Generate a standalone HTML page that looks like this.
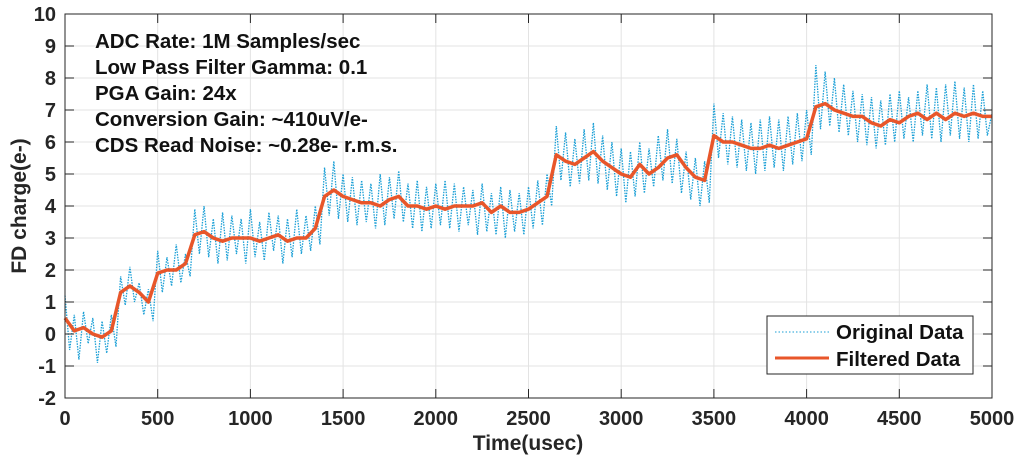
<!DOCTYPE html>
<html><head><meta charset="utf-8"><style>
html,body{margin:0;padding:0;background:#fff;}
svg{display:block;font-family:"Liberation Sans",Arial,sans-serif;font-weight:bold;}
</style></head><body>
<svg id="chart" width="1024" height="466" viewBox="0 0 1024 466" xmlns="http://www.w3.org/2000/svg">
<g id="grid"></g>
<g id="series"></g>
<rect x="65" y="14" width="927" height="384" fill="none" stroke="#262626" stroke-width="1"/>
<g id="ticks"></g>
<g font-size="20.5" fill="#111">
<text x="95" y="48">ADC Rate: 1M Samples/sec</text>
<text x="95" y="74">Low Pass Filter Gamma: 0.1</text>
<text x="95" y="100">PGA Gain: 24x</text>
<text x="95" y="126">Conversion Gain: ~410uV/e-</text>
<text x="95" y="152">CDS Read Noise: ~0.28e- r.m.s.</text>
</g>
<text x="528" y="450" font-size="21" text-anchor="middle" fill="#262626">Time(usec)</text>
<text transform="translate(26,206) rotate(-90)" font-size="21" text-anchor="middle" fill="#262626">FD charge(e-)</text>
<g>
<rect x="767" y="316" width="206" height="58" fill="#fff" stroke="#262626" stroke-width="1"/>
<line x1="775" y1="332" x2="829" y2="332" stroke="#1a9fd6" stroke-width="1" stroke-dasharray="1.5,2"/>
<text x="836" y="339" font-size="20.5" fill="#111">Original Data</text>
<line x1="775" y1="358" x2="829" y2="358" stroke="#e8562a" stroke-width="3"/>
<text x="836" y="366" font-size="20.5" fill="#111">Filtered Data</text>
</g>
</svg>
<script>
const xTicks=[0,500,1000,1500,2000,2500,3000,3500,4000,4500,5000];
const yTicks=[-2,-1,0,1,2,3,4,5,6,7,8,9,10];
const filteredStep=50;
const filteredValues=[0.5,0.1,0.2,0.0,-0.1,0.1,1.3,1.5,1.3,1.0,1.9,2.0,2.0,2.2,3.1,3.2,3.0,2.9,3.0,3.0,3.0,2.9,3.0,3.1,2.9,3.0,3.0,3.3,4.3,4.5,4.3,4.2,4.1,4.1,4.0,4.2,4.3,4.0,4.0,3.9,4.0,3.9,4.0,4.0,4.0,4.1,3.8,4.0,3.8,3.8,3.9,4.1,4.3,5.6,5.4,5.3,5.5,5.7,5.4,5.2,5.0,4.9,5.3,5.0,5.2,5.5,5.6,5.2,4.9,4.8,6.2,6.0,6.0,5.9,5.8,5.8,5.9,5.8,5.9,6.0,6.1,7.1,7.2,7.0,6.9,6.8,6.8,6.6,6.5,6.7,6.6,6.8,6.9,6.7,6.9,6.7,6.9,6.8,6.9,6.8,6.8];
const originalStep=25;
const originalValues=[1.2,-0.5,0.6,-0.8,0.7,-0.3,0.5,-0.9,0.4,-0.6,0.6,-0.4,
1.8,0.9,2.1,1.0,1.6,0.6,1.4,0.4,2.6,1.3,2.4,1.5,2.8,1.6,2.5,1.8,
3.9,2.5,4.0,2.4,3.6,2.2,3.8,2.3,3.7,2.5,3.6,2.2,3.9,2.4,3.5,2.3,3.8,2.6,3.7,2.2,3.6,2.4,3.9,2.5,3.7,2.6,4.0,2.8,
5.2,3.7,5.4,3.6,5.0,3.5,4.9,3.4,4.8,3.5,4.7,3.3,5.0,3.4,4.9,3.6,5.1,3.5,4.7,3.3,4.8,3.2,4.6,3.3,4.7,3.4,4.8,3.3,4.7,3.2,4.6,3.4,4.5,3.1,4.7,3.2,4.4,3.1,4.6,3.0,4.5,3.2,4.4,3.1,4.6,3.3,4.8,3.4,5.0,4.0,
6.5,4.8,6.3,4.6,6.1,4.7,6.4,4.8,6.6,4.7,6.2,4.5,6.0,4.3,5.8,4.1,5.7,4.3,6.0,4.4,5.8,4.6,6.2,4.8,6.4,4.7,6.1,4.4,5.7,4.2,5.5,4.0,5.4,4.1,
7.2,5.5,6.9,5.3,6.8,5.2,6.7,5.1,6.6,5.0,6.7,5.1,6.8,5.2,6.7,5.1,6.8,5.3,6.9,5.4,7.0,5.6,
8.4,6.4,8.2,6.5,8.0,6.3,7.8,6.2,7.6,6.0,7.5,5.9,7.4,5.8,7.3,5.9,7.5,6.0,7.6,6.1,7.4,6.0,7.6,6.2,7.8,6.1,7.7,6.0,7.8,6.2,7.9,6.1,7.7,6.0,7.8,6.1,7.6,6.2,6.9];

const NS='http://www.w3.org/2000/svg';
const L=65,R=992,T=14,B=398;
function xs(v){return L+(v-0)/(5000-0)*(R-L);}
function ys(v){return B-(v+2)/12*(B-T);}
function mk(tag,attrs,parent){const e=document.createElementNS(NS,tag);for(const k in attrs)e.setAttribute(k,attrs[k]);parent.appendChild(e);return e;}
const grid=document.getElementById('grid'),ticks=document.getElementById('ticks'),series=document.getElementById('series');
xTicks.forEach(t=>{
  const x=xs(t);
  const g=mk('line',{x1:x,x2:x,y1:T,y2:B,stroke:'#e3e3e3','stroke-width':1},grid);
  
  
  const tk=mk('line',{x1:x,x2:x,y1:B,y2:B-9,stroke:'#262626'},ticks);
  
  
  const tk2=mk('line',{x1:x,x2:x,y1:T,y2:T+9,stroke:'#262626'},ticks);
  
  
  const lb=mk('text',{x:x,y:B+27,'font-size':20,'text-anchor':'middle',fill:'#262626'},ticks);
  lb.textContent=t;
  
  
});
yTicks.forEach(t=>{
  const y=ys(t);
  const g=mk('line',{x1:L,x2:R,y1:y,y2:y,stroke:'#e3e3e3','stroke-width':1},grid);
  
  
  const tk=mk('line',{x1:L,x2:L+9,y1:y,y2:y,stroke:'#262626'},ticks);
  
  
  const tk2=mk('line',{x1:R,x2:R-9,y1:y,y2:y,stroke:'#262626'},ticks);
  
  
  const lb=mk('text',{x:L-9,y:y+7,'font-size':20,'text-anchor':'end',fill:'#262626'},ticks);
  lb.textContent=t;
  
  
});
const op=mk('polyline',{points:originalValues.map((v,i)=>xs(i*originalStep)+','+ys(v)).join(' '),fill:'none',stroke:'#1a9fd6','stroke-width':1.3,'stroke-dasharray':'1.5,1.2'},series);


const fp=mk('polyline',{points:filteredValues.map((v,i)=>xs(i*filteredStep)+','+ys(v)).join(' '),fill:'none',stroke:'#e8562a','stroke-width':3.5,'stroke-linejoin':'round'},series);


</script>
</body></html>
